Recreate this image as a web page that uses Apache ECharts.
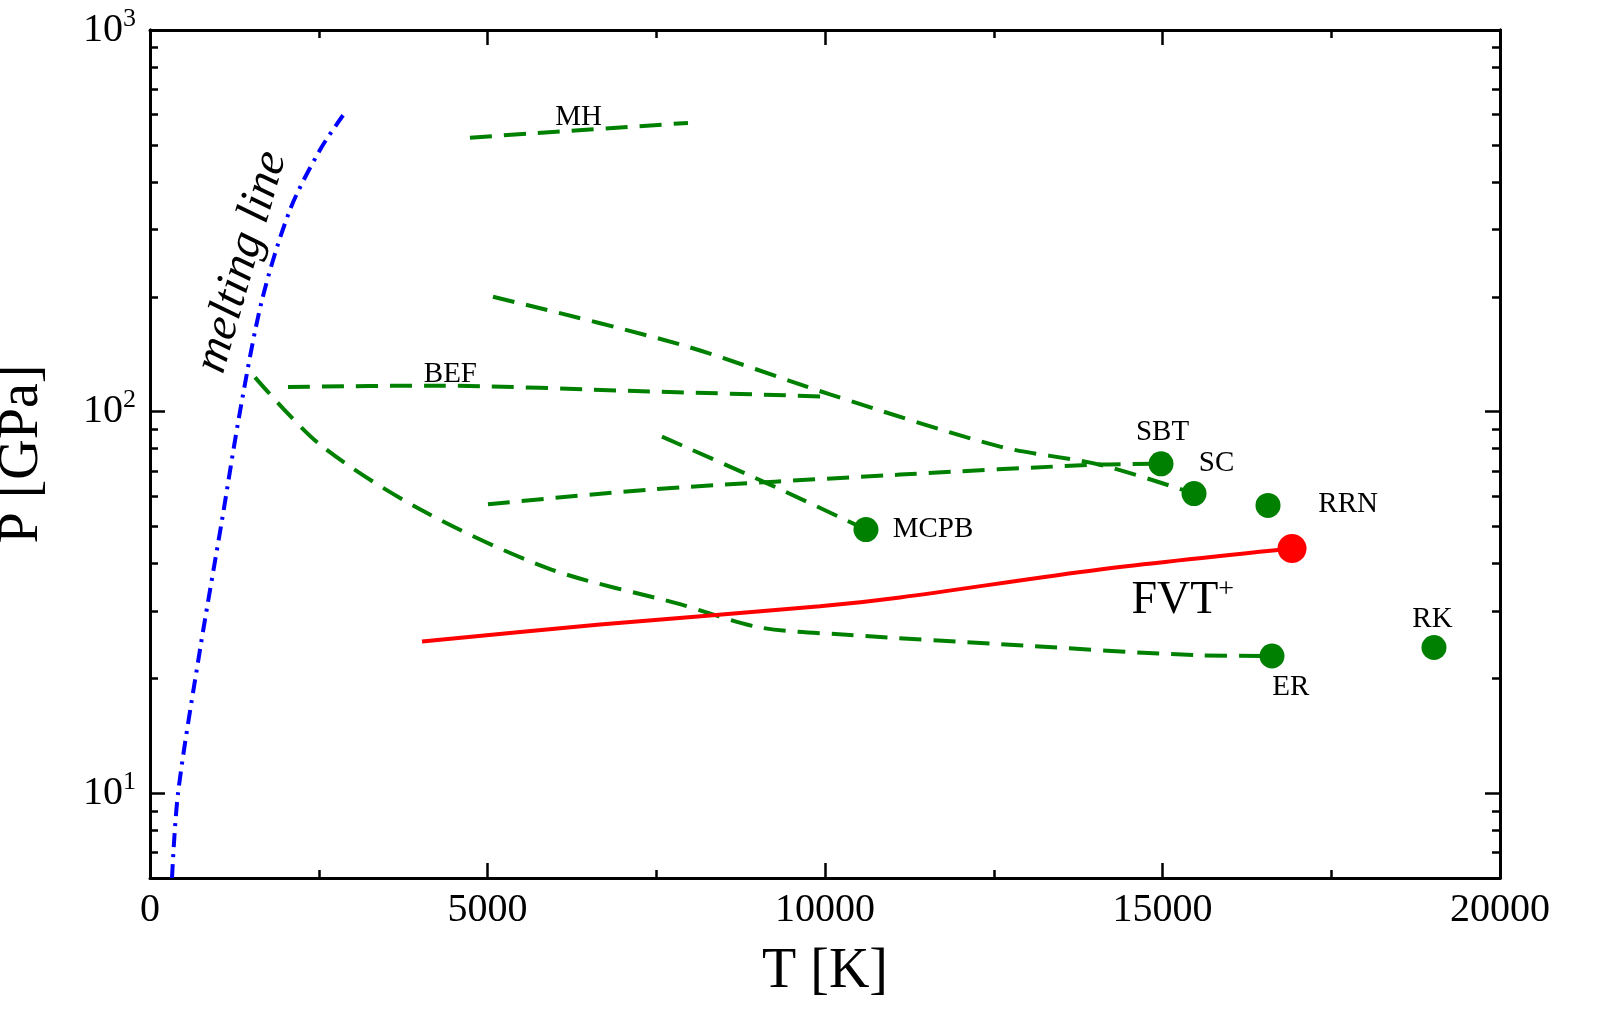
<!DOCTYPE html><html><head><meta charset="utf-8">
<script src="https://cdn.jsdelivr.net/npm/echarts@6/dist/echarts.min.js"></script>
<style>html,body{margin:0;padding:0;background:#fff}#c{width:1606px;height:1021px}</style></head><body><div id="c"></div>
<script>
const meltT=[326,415,741,1067,1333,1659,2074,2518,2860];
const meltP=[6,10,23.8,52,100,196,338,485,598];
const mhT=[4740,5600,7970], mhP=[522,535,571];
const befUpT=[2044,4148,7400,10044], befUpP=[116,117,113,109.5];
const befLoT=[1556,2518,4000,5926,7852,9037,10370,12593,15556,16622];
const befLoP=[123,82,55.5,38.7,31.3,27.2,26,24.6,23,22.9];
const scT=[5081,7852,10074,12593,14074,15467], scP=[200,150,111,81,72.6,61];
const sbtT=[5007,7407,11111,14000,14978], sbtP=[57.2,62.5,68.4,72.6,73];
const mcpbT=[7585,9185,10607], mcpbP=[86,64.4,49.1];
const fvtT=[4030,6667,9926,11111,14074,16919], fvtP=[25,27.7,30.9,32.6,38.6,43.8];
const ptNames=['SBT','SC','RRN','MCPB','ER','RK'];
const ptT=[14978,15467,16563,10607,16622,19022];
const ptP=[73,61,56.8,49.1,22.9,24.1];
const yMajor=[10,100,1000];
const yMinor=[7,8,9,20,30,40,50,60,70,80,90,200,300,400,500,600,700,800,900];
const zip=(a,b)=>a.map((v,i)=>[v,b[i]]);
const G='#008000';
const F='Liberation Serif, Times New Roman, serif';
const ch=echarts.init(document.getElementById('c'));
const ax={lineStyle:{color:'#000',width:3}};
function yA(pos,vals,len,lab){return {type:'log',min:6,max:1000,position:pos,axisLine:{show:true,...ax},
 splitLine:{show:false},axisTick:{show:true,inside:true,length:len,customValues:vals,lineStyle:{color:'#000',width:2.5}},
 axisLabel:lab?{show:true,customValues:yMajor,margin:14,formatter:v=>'{b|10}{s|'+Math.round(Math.log10(v))+'}',
  rich:{b:{fontSize:40,fontFamily:F,color:'#000'},s:{fontSize:26,fontFamily:F,color:'#000',verticalAlign:'top',padding:[0,0,22,0]}}}:{show:false}};}
function ln(T,P,color,type,w){return {type:'line',data:zip(T,P),symbol:'none',smooth:0.3,lineStyle:{color:color,width:w||4,type:type},z:3};}
ch.setOption({
 animation:false,
 grid:{left:150,right:106,top:30,bottom:143,outerBoundsMode:'none',containLabel:false},
 xAxis:[{type:'value',min:0,max:20000,interval:5000,position:'bottom',axisLine:ax,splitLine:{show:false},
   axisTick:{inside:true,length:15,lineStyle:{color:'#000',width:2.5}},minorTick:{show:true,splitNumber:2,length:8,lineStyle:{color:'#000',width:2.5}},
   axisLabel:{fontSize:40,fontFamily:F,color:'#000',margin:12,formatter:v=>String(v)},
   name:'T [K]',nameLocation:'middle',nameGap:66,nameTextStyle:{fontSize:56,fontFamily:F,color:'#000'}},
  {type:'value',min:0,max:20000,interval:5000,position:'top',axisLine:ax,splitLine:{show:false},
   axisTick:{inside:true,length:15,lineStyle:{color:'#000',width:2.5}},minorTick:{show:true,splitNumber:2,length:8,lineStyle:{color:'#000',width:2.5}},axisLabel:{show:false}}],
 yAxis:[Object.assign(yA('left',yMajor,15,true),{name:'P [GPa]',nameLocation:'middle',nameGap:100,nameTextStyle:{fontSize:56,fontFamily:F,color:'#000'}}),
  yA('left',yMinor,8,false),yA('right',yMajor,15,false),yA('right',yMinor,8,false)],
 series:[
  ln(meltT,meltP,'#0000ff',[14,7,3,7]),
  ln(mhT,mhP,G,[22,12]),ln(befUpT,befUpP,G,[22,12]),ln(befLoT,befLoP,G,[22,12]),
  ln(scT,scP,G,[22,12]),ln(sbtT,sbtP,G,[22,12]),ln(mcpbT,mcpbP,G,[22,12]),
  ln(fvtT,fvtP,'#ff0000','solid',4),
  {type:'scatter',data:zip(ptT,ptP),symbolSize:25,itemStyle:{color:G,opacity:1},z:5},
  {type:'scatter',data:[[fvtT[5],fvtP[5]]],symbolSize:29,itemStyle:{color:'#ff0000',opacity:1},z:5}
 ]
});
const labs=[['MH',6350,590],['BEF',4450,125],['SBT',15000,88],['SC',15800,73],['RRN',17750,57],
 ['MCPB',11600,49.1],['ER',16900,19],['RK',19000,28.5]];
const g=labs.map(l=>{const p=ch.convertToPixel({xAxisIndex:0,yAxisIndex:0},[l[1],l[2]]);
 return {type:'text',x:p[0],y:p[1],style:{text:l[0],fontSize:29,fontFamily:F,fill:'#000',align:'center',verticalAlign:'middle'}};});
let p=ch.convertToPixel({xAxisIndex:0,yAxisIndex:0},[15300,32]);
g.push({type:'text',x:p[0],y:p[1],style:{text:'{a|FVT}{s|+}',rich:{a:{fontSize:46,fontFamily:F,color:'#ff0000'},s:{fontSize:28,fontFamily:F,color:'#ff0000',verticalAlign:'top',padding:[0,0,22,0]}},align:'center',verticalAlign:'middle'}});
g.push({type:'text',x:242,y:262,rotation:Math.PI*74/180,style:{text:'melting line',fontSize:48,fontFamily:F,fontStyle:'italic',fill:'#000',align:'center',verticalAlign:'middle'}});
ch.setOption({graphic:g});
</script></body></html>
